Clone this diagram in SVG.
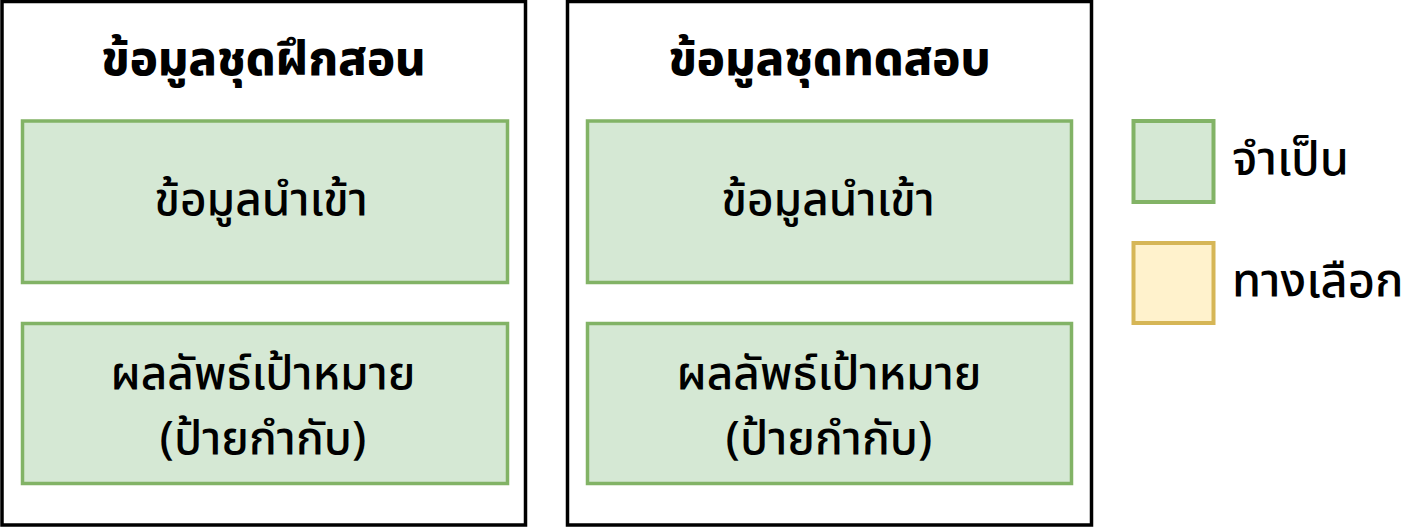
<svg xmlns="http://www.w3.org/2000/svg" width="1420" height="528" viewBox="0 0 1420 528">
<style>
.outer{fill:#ffffff;stroke:#000000;stroke-width:3.5}
.req{fill:#d5e8d4;stroke:#82b366;stroke-width:3.5}
.opt{fill:#fff2cc;stroke:#d6b656;stroke-width:4}
.legreq{fill:#d5e8d4;stroke:#82b366;stroke-width:4}
text{font-family:"Noto Sans Thai","Noto Sans","Liberation Sans",sans-serif;fill:#000000}
.title{font-size:47px;font-weight:800;text-anchor:middle}
.lbl{font-size:46px;font-weight:500;text-anchor:middle}
.leg{font-size:47px;font-weight:500}
</style>
<rect width="1420" height="528" fill="#ffffff"/>
<g id="train">
<rect class="outer" x="2" y="1.5" width="523.5" height="523.5"/>
<text class="title" x="263.5" y="75">ข้อมูลชุดฝึกสอน</text>
</g>
<g id="train-input">
<rect class="req" x="22.5" y="121" width="485" height="161.5"/>
<text class="lbl" x="261" y="215">ข้อมูลนำเข้า</text>
</g>
<g id="train-target">
<rect class="req" x="22.5" y="323.5" width="485" height="160"/>
<text class="lbl" x="263" y="389">ผลลัพธ์เป้าหมาย</text>
<text class="lbl" x="263" y="454">(ป้ายกำกับ)</text>
</g>
<g id="test">
<rect class="outer" x="567.5" y="1.5" width="524" height="523.5"/>
<text class="title" x="829.5" y="75">ข้อมูลชุดทดสอบ</text>
</g>
<g id="test-input">
<rect class="req" x="587.5" y="121" width="484" height="161.5"/>
<text class="lbl" x="828" y="215">ข้อมูลนำเข้า</text>
</g>
<g id="test-target">
<rect class="req" x="587.5" y="323.5" width="484" height="160"/>
<text class="lbl" x="829" y="389">ผลลัพธ์เป้าหมาย</text>
<text class="lbl" x="829" y="454">(ป้ายกำกับ)</text>
</g>
<g id="legend-required">
<rect class="legreq" x="1133.5" y="121" width="80" height="81"/>
<text class="leg" x="1232" y="175">จำเป็น</text>
</g>
<g id="legend-optional">
<rect class="opt" x="1133.5" y="243" width="80" height="80"/>
<text class="leg" x="1232" y="297">ทางเลือก</text>
</g>
<g id="connectors"></g>
</svg>
